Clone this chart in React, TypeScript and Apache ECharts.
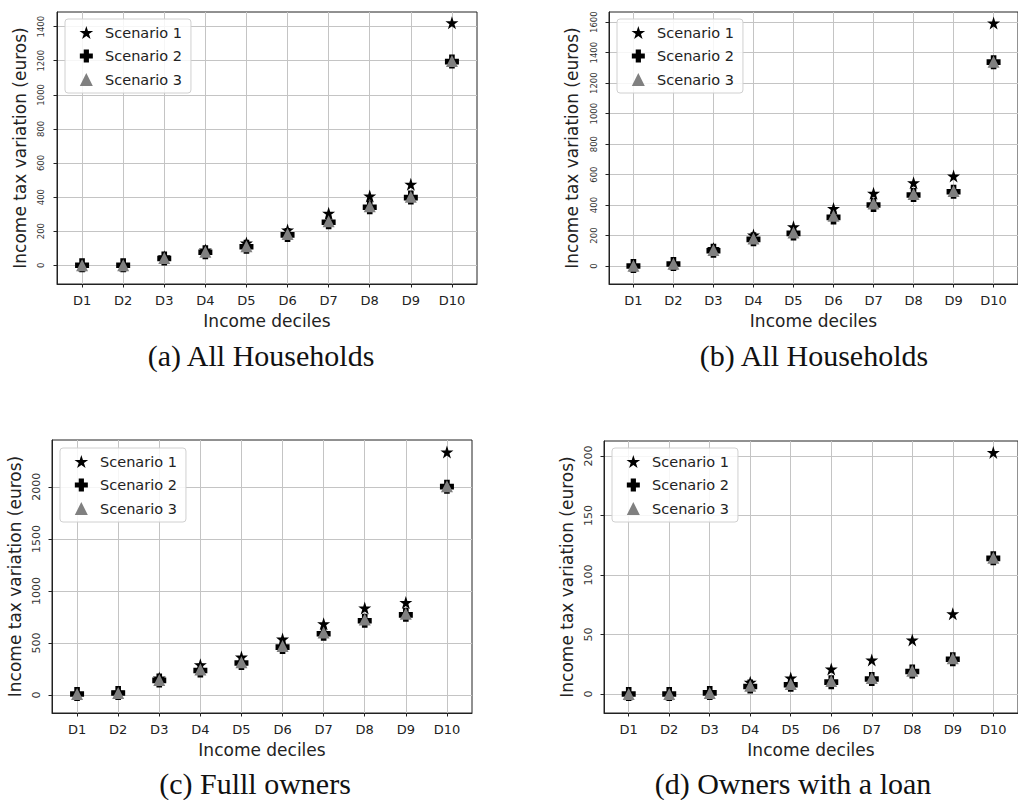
import React, { useEffect, useRef } from "react";
import * as echarts from "echarts";

// ---------- data ----------
const deciles = ["D1", "D2", "D3", "D4", "D5", "D6", "D7", "D8", "D9", "D10"];
const scenarioNames = ["Scenario 1", "Scenario 2", "Scenario 3"];

// (a) All Households
const allA_s1 = [0, 0, 50, 90, 130, 207, 305, 406, 475, 1423];
const allA_s2 = [0, 0, 40, 76, 109, 178, 252, 340, 397, 1195];
const allA_s3 = [0, 0, 42, 79, 112, 183, 258, 346, 402, 1198];
const yTicksA = [0, 200, 400, 600, 800, 1000, 1200, 1400];

// (b) All Households
const allB_s1 = [3, 15, 115, 203, 258, 378, 477, 546, 590, 1595];
const allB_s2 = [0, 13, 100, 175, 214, 319, 400, 466, 487, 1338];
const allB_s3 = [2, 15, 105, 180, 220, 330, 410, 472, 492, 1340];
const yTicksB = [0, 200, 400, 600, 800, 1000, 1200, 1400, 1600];

// (c) Full owners
const ownC_s1 = [12, 25, 163, 291, 364, 537, 684, 835, 889, 2335];
const ownC_s2 = [10, 19, 140, 236, 307, 460, 588, 713, 770, 2002];
const ownC_s3 = [10, 20, 145, 245, 315, 470, 600, 725, 780, 2005];
const yTicksC = [0, 500, 1000, 1500, 2000];

// (d) Owners with a loan
const loanD_s1 = [0, 0, 1.5, 10, 13.5, 21, 28.7, 45.5, 67.5, 203];
const loanD_s2 = [0, 0, 1, 6.4, 7.8, 10, 12.6, 19, 29.3, 114];
const loanD_s3 = [0, 0, 1, 7, 8.5, 11, 13.5, 19.5, 30, 114.5];
const yTicksD = [0, 50, 100, 150, 200];

const captions = [
  "(a) All Households",
  "(b) All Households",
  "(c) Fulll owners",
  "(d) Owners with a loan",
];
const xName = "Income deciles";
const yName = "Income tax variation (euros)";

// ---------- styling / layout ----------
const STAR =
  "path://M50 0L61.2 34.55L97.55 34.55L68.2 55.9L79.4 90.45L50 69.1L20.6 90.45L31.8 55.9L2.45 34.55L38.8 34.55Z";
const PLUS =
  "path://M18 0L42 0L42 18L60 18L60 42L42 42L42 60L18 60L18 42L0 42L0 18L18 18Z";
const TRIANGLE = "path://M50 0L100 100L0 100Z";
const symbols = [STAR, PLUS, TRIANGLE];
const symbolSizes = [13, 14, 12];
const colors = ["#000000", "#000000", "#808080"];
const SANS = "DejaVu Sans";
const FRAME = "#222222";

const panels = [
  {
    grid: { left: 57, top: 12, width: 420, height: 272 },
    yMin: -110, yMax: 1486, yTicks: yTicksA, yFont: 8.5, yMargin: 12,
    series: [allA_s1, allA_s2, allA_s3],
    legend: { left: 65, top: 19 },
    caption: { x: 261, y: 355 },
  },
  {
    grid: { left: 609, top: 12, width: 420, height: 272 },
    yMin: -118, yMax: 1667, yTicks: yTicksB, yFont: 8.5, yMargin: 11,
    series: [allB_s1, allB_s2, allB_s3],
    legend: { left: 617, top: 19 },
    caption: { x: 814, y: 355 },
  },
  {
    grid: { left: 52, top: 440, width: 420, height: 273 },
    yMin: -173, yMax: 2450, yTicks: yTicksC, yFont: 11, yMargin: 10,
    series: [ownC_s1, ownC_s2, ownC_s3],
    legend: { left: 60, top: 448 },
    caption: { x: 255, y: 783 },
  },
  {
    grid: { left: 604, top: 441, width: 420, height: 272 },
    yMin: -15.9, yMax: 212.6, yTicks: yTicksD, yFont: 11, yMargin: 10.5,
    series: [loanD_s1, loanD_s2, loanD_s3],
    legend: { left: 612, top: 448 },
    caption: { x: 793, y: 783 },
  },
];

export default function App() {
  const ref = useRef<HTMLDivElement>(null);

  useEffect(() => {
    document.body.style.margin = "0";
    if (!ref.current) return;
    const chart = echarts.init(ref.current, null, { renderer: "svg" });
    const xTickVals = deciles.map((_, i) => i + 1);

    const option: any = {
      animation: false,
      backgroundColor: "#ffffff",
      grid: panels.map((p) => ({
        ...p.grid,
        show: true,
        borderColor: FRAME,
        borderWidth: 1,
        backgroundColor: "transparent",
        containLabel: false,
      })),
      xAxis: panels.map((p, i) => ({
        gridIndex: i,
        type: "value",
        min: 0.39,
        max: 10.61,
        splitNumber: 10,
        name: xName,
        nameLocation: "middle",
        nameGap: 28.5,
        nameTextStyle: { fontSize: 17, color: "#222", fontFamily: SANS },
        axisLine: { show: true, onZero: false, lineStyle: { color: FRAME, width: 1 } },
        axisTick: {
          show: true,
          length: 3.5,
          inside: false,
          customValues: xTickVals,
          lineStyle: { color: FRAME, width: 1 },
        },
        axisLabel: {
          customValues: xTickVals,
          formatter: (v: number) => deciles[Math.round(v) - 1] ?? "",
          margin: 9.5,
          fontSize: 13,
          color: "#222",
          fontFamily: SANS,
        },
        splitLine: { show: true, lineStyle: { color: "#c4c4c4", width: 1 } },
      })),
      yAxis: panels.map((p, i) => ({
        gridIndex: i,
        type: "value",
        min: p.yMin,
        max: p.yMax,
        splitNumber: p.yTicks.length,
        name: yName,
        nameLocation: "middle",
        nameGap: 28.5,
        nameTextStyle: { fontSize: 17, color: "#222", fontFamily: SANS },
        axisLine: { show: true, onZero: false, lineStyle: { color: FRAME, width: 1 } },
        axisTick: {
          show: true,
          length: 3.5,
          inside: false,
          customValues: p.yTicks,
          lineStyle: { color: FRAME, width: 1 },
        },
        axisLabel: {
          customValues: p.yTicks,
          formatter: (v: number) => String(v),
          rotate: 90,
          margin: p.yMargin,
          fontSize: p.yFont,
          color: "#333",
          fontFamily: SANS,
        },
        splitLine: { show: true, lineStyle: { color: "#c4c4c4", width: 1 } },
      })),
      legend: panels.map((p) => ({
        left: p.legend.left,
        top: p.legend.top,
        orient: "vertical",
        data: scenarioNames,
        itemWidth: 27.5,
        itemHeight: 13,
        itemGap: 8.5,
        padding: [6, 9, 6, 14.5],
        backgroundColor: "rgba(255,255,255,0.85)",
        borderColor: "#d0d0d0",
        borderWidth: 1,
        borderRadius: 3,
        selectedMode: false,
        textStyle: { fontSize: 14.5, color: "#222", fontFamily: SANS },
      })),
      series: panels.flatMap((p, i) =>
        p.series.map((vals, k) => ({
          type: "scatter",
          name: scenarioNames[k],
          xAxisIndex: i,
          yAxisIndex: i,
          symbol: symbols[k],
          symbolSize: symbolSizes[k],
          itemStyle: { color: colors[k], opacity: 1 },
          z: 2 + k,
          data: vals.map((v, j) => [j + 1, v]),
        }))
      ),
      graphic: panels.map((p, i) => ({
        type: "text",
        x: p.caption.x,
        y: p.caption.y,
        silent: true,
        style: {
          text: captions[i],
          font: '30px "Liberation Serif"',
          fill: "#111",
          textAlign: "center",
          align: "center",
          textVerticalAlign: "middle",
          verticalAlign: "middle",
        },
      })),
    };

    chart.setOption(option);
    return () => chart.dispose();
  }, []);

  return <div ref={ref} style={{ width: 1018, height: 800 }} />;
}
